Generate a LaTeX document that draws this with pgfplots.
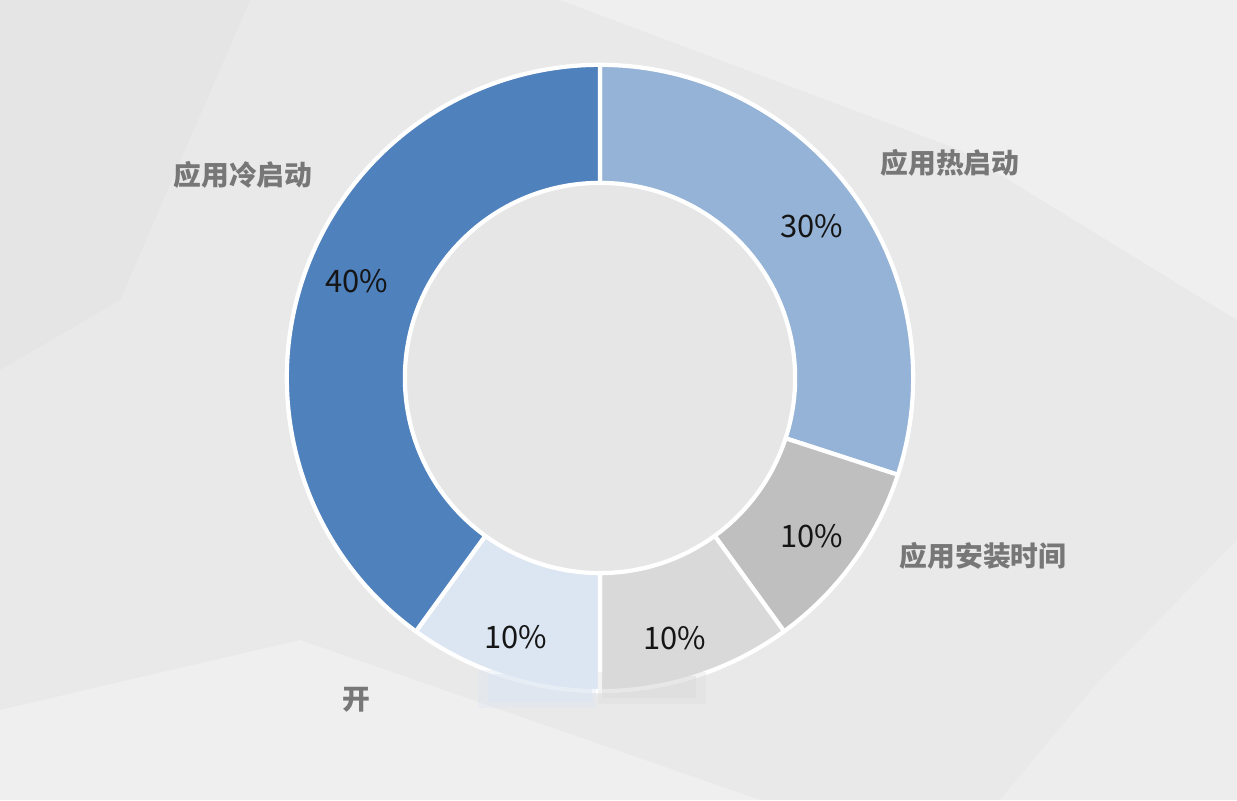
\documentclass[border=0pt]{standalone}
\usepackage{pgfplots}
\pgfplotsset{compat=1.18}
\usepackage{pgfplotstable}
\usepackage{fontspec}
\setmainfont{Noto Sans CJK SC}
\definecolor{bgA}{HTML}{E9E9E9}
\definecolor{bgB}{HTML}{EFEFEF}
\definecolor{bgC}{HTML}{E5E5E5}
\definecolor{hole}{HTML}{E6E6E6}
\definecolor{cA}{HTML}{95B3D7}
\definecolor{cB}{HTML}{BFBFBF}
\definecolor{cC}{HTML}{D9D9D9}
\definecolor{cD}{HTML}{DCE6F2}
\definecolor{cE}{HTML}{4F81BD}
\definecolor{lab}{HTML}{777777}
\definecolor{pct}{HTML}{151515}
\pgfplotstableread{
value color
30 cA
10 cB
10 cC
10 cD
40 cE
}\donut
\begin{document}
\begin{tikzpicture}
\begin{axis}[x=0.01cm, y=0.01cm, xmin=0, xmax=1237, ymin=0, ymax=800,
  hide axis, clip=false, scale only axis]
% background
\fill[bgA] (axis cs:0,0) rectangle (axis cs:1237,800);
\fill[bgB] (axis cs:560,800) -- (axis cs:1237,800) -- (axis cs:1237,480) -- (axis cs:960,650) -- cycle;
\fill[bgB] (axis cs:0,0) -- (axis cs:0,90) -- (axis cs:300,160) -- (axis cs:760,0) -- cycle;
\fill[bgC] (axis cs:0,800) -- (axis cs:250,800) -- (axis cs:120,500) -- (axis cs:0,430) -- cycle;
\fill[bgB!60!bgA] (axis cs:1237,0) -- (axis cs:1237,260) -- (axis cs:1100,120) -- (axis cs:1000,0) -- cycle;
\fill[hole] (axis cs:600,422) circle[radius=1.95cm];
% donut
\def\cum{90}
\pgfplotsforeachungrouped \i in {0,...,4}{%
  \pgfplotstablegetelem{\i}{value}\of\donut \let\v\pgfplotsretval
  \pgfplotstablegetelem{\i}{color}\of\donut \let\cc\pgfplotsretval
  \pgfmathsetmacro\a{\cum}%
  \pgfmathsetmacro\b{\cum-3.6*\v}%
  \edef\temp{\noexpand\filldraw[fill=\cc, draw=white, line width=1.2pt, line join=round]
    (axis cs:600,422) ++(\a:3.13cm) arc[start angle=\a, end angle=\b, radius=3.13cm]
    -- ++(\b:-1.18cm) arc[start angle=\b, end angle=\a, radius=1.95cm] -- cycle;}%
  \temp
  \let\cum\b
}
% smear at bottom
\fill[cD, opacity=0.35] (axis cs:478,130) rectangle (axis cs:596,92);
\fill[cD, opacity=0.5] (axis cs:488,126) rectangle (axis cs:592,98);
\fill[cC, opacity=0.3] (axis cs:598,128) rectangle (axis cs:706,96);
\fill[cC, opacity=0.45] (axis cs:602,124) rectangle (axis cs:696,102);
% percentages
\node[font=\fontsize{8.8}{10}\selectfont, text=pct] at (axis cs:812,574) {30\%};
\node[font=\fontsize{8.8}{10}\selectfont, text=pct] at (axis cs:812,264) {10\%};
\node[font=\fontsize{8.8}{10}\selectfont, text=pct] at (axis cs:675,162) {10\%};
\node[font=\fontsize{8.8}{10}\selectfont, text=pct] at (axis cs:516,163) {10\%};
\node[font=\fontsize{8.8}{10}\selectfont, text=pct] at (axis cs:357,519) {40\%};
% category labels
\node[font=\fontsize{7.9}{9}\selectfont\bfseries, text=lab] at (axis cs:243,625) {应用冷启动};
\node[font=\fontsize{7.9}{9}\selectfont\bfseries, text=lab] at (axis cs:950,637) {应用热启动};
\node[font=\fontsize{7.9}{9}\selectfont\bfseries, text=lab] at (axis cs:983,244) {应用安装时间};
\node[font=\fontsize{7.9}{9}\selectfont\bfseries, text=lab] at (axis cs:356,100) {开};
\end{axis}
\end{tikzpicture}
\end{document}
